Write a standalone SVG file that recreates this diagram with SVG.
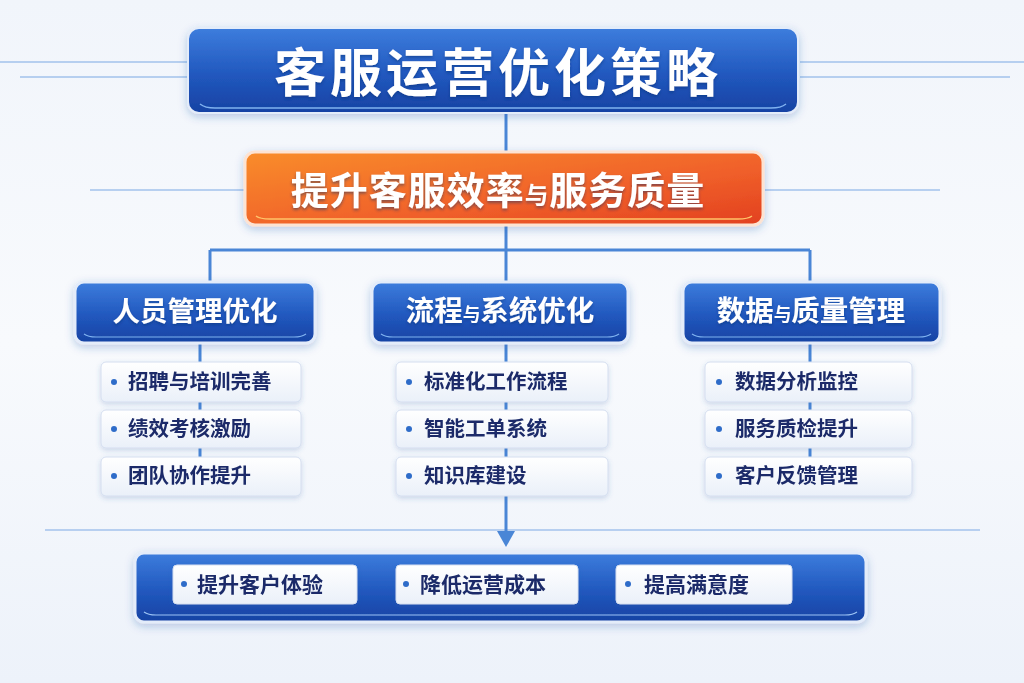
<svg xmlns="http://www.w3.org/2000/svg" width="1024" height="683" viewBox="0 0 1024 683">
<defs>
<linearGradient id="bg" x1="0" y1="0" x2="0" y2="1"><stop offset="0" stop-color="#f1f5fb"/><stop offset="0.5" stop-color="#f8fafd"/><stop offset="1" stop-color="#edf2fa"/></linearGradient>
<linearGradient id="blue" x1="0" y1="0" x2="0" y2="1"><stop offset="0" stop-color="#3d7ddd"/><stop offset="0.55" stop-color="#2158be"/><stop offset="1" stop-color="#1742a3"/></linearGradient>
<linearGradient id="orange" x1="0" y1="0" x2="1" y2="1"><stop offset="0" stop-color="#f98d2c"/><stop offset="0.6" stop-color="#f0602a"/><stop offset="1" stop-color="#e2401f"/></linearGradient>
<linearGradient id="item" x1="0" y1="0" x2="0" y2="1"><stop offset="0" stop-color="#ffffff"/><stop offset="1" stop-color="#eaf0f9"/></linearGradient>
<filter id="sh" x="-10%" y="-30%" width="120%" height="170%"><feDropShadow dx="0" dy="3" stdDeviation="4" flood-color="#1d4fa8" flood-opacity="0.28"/></filter>
<filter id="sh2" x="-10%" y="-30%" width="120%" height="170%"><feDropShadow dx="0" dy="2" stdDeviation="2.5" flood-color="#3a63a8" flood-opacity="0.22"/></filter>
<filter id="tsh" x="-5%" y="-20%" width="110%" height="150%"><feDropShadow dx="0" dy="2" stdDeviation="1.5" flood-color="#0b2a70" flood-opacity="0.45"/></filter>
</defs>
<style>
.ln{stroke:#4a86d6;stroke-width:3;fill:none}
.deco{stroke:#a3c2ec;stroke-width:1.6;fill:none}
.t{font-family:"Noto Sans CJK SC","Noto Sans",sans-serif;font-weight:700;fill:#ffffff;text-anchor:middle}
.it{font-family:"Noto Sans CJK SC","Noto Sans",sans-serif;font-weight:700;fill:#1b2b69;font-size:20.5px}
.bt{font-family:"Noto Sans CJK SC","Noto Sans",sans-serif;font-weight:700;fill:#1b2b69;font-size:21px}
.dot{fill:#2e6cc9}
.ibox{fill:url(#item);stroke:#d4def0;stroke-width:1}
.hbox{fill:url(#blue);stroke:#e3ecfa;stroke-width:3}
.sm{font-size:0.62em}
</style>
<rect width="1024" height="683" fill="url(#bg)"/>
<g id="decor">
<path class="deco" d="M0 62H190M20 77H190M800 62H1024M800 77H1010"/>
<path class="deco" d="M90 190H245M765 190H940"/>
<path class="deco" d="M45 530H980"/>
</g>
<g id="connectors">
<path class="ln" d="M506 113V152"/>
<path class="ln" d="M506 225V250M210 250H810M210 250V282M506 250V282M810 250V282"/>
<path class="ln" d="M200 343V362M200 402V410M200 448V457"/>
<path class="ln" d="M506 343V362M506 402V410M506 448V457M506 496V532"/>
<path class="ln" d="M810 343V362M810 402V410M810 448V457"/>
<path d="M497 531H515L506 547Z" fill="#4a86d6"/>
</g>
<g id="title" filter="url(#sh)">
<rect x="188" y="28" width="610" height="85" rx="11" fill="url(#blue)" stroke="#e3ecfa" stroke-width="2"/>
<path d="M200 104Q205 108 215 108H771Q781 108 786 104" stroke="#7fb2f0" stroke-width="1.5" fill="none"/>
<text class="t" x="498" y="92" font-size="52" letter-spacing="4" filter="url(#tsh)">客服运营优化策略</text>
</g>
<g id="goal" filter="url(#sh)">
<rect x="245" y="152" width="518" height="73" rx="10" fill="url(#orange)" stroke="#fde3d2" stroke-width="3"/>
<path d="M256 216Q260 219 270 219H738Q748 219 752 216" stroke="#ffc36a" stroke-width="1.5" fill="none"/>
<text class="t" x="498" y="204" font-size="38" letter-spacing="1" filter="url(#tsh)">提升客服效率<tspan class="sm">与</tspan>服务质量</text>
</g>
<g id="h1" filter="url(#sh)">
<rect class="hbox" x="75" y="282" width="240" height="61" rx="9"/>
<path d="M84 334Q88 337 96 337H294Q302 337 306 334" stroke="#7fb2f0" stroke-width="1.2" fill="none"/>
<text class="t" x="195" y="321" font-size="27.5" filter="url(#tsh)">人员管理优化</text>
</g>
<g id="h2" filter="url(#sh)">
<rect class="hbox" x="372" y="282" width="256" height="61" rx="9"/>
<path d="M381 334Q385 337 393 337H607Q615 337 619 334" stroke="#7fb2f0" stroke-width="1.2" fill="none"/>
<text class="t" x="500" y="321" font-size="28.5" filter="url(#tsh)">流程<tspan class="sm">与</tspan>系统优化</text>
</g>
<g id="h3" filter="url(#sh)">
<rect class="hbox" x="683" y="282" width="257" height="61" rx="9"/>
<path d="M692 334Q696 337 704 337H919Q927 337 931 334" stroke="#7fb2f0" stroke-width="1.2" fill="none"/>
<text class="t" x="811" y="321" font-size="28.5" filter="url(#tsh)">数据<tspan class="sm">与</tspan>质量管理</text>
</g>
<g id="i11" filter="url(#sh2)"><rect class="ibox" x="101" y="362" width="200" height="40" rx="5"/><circle class="dot" cx="114" cy="382" r="3"/><text class="it" x="128" y="389">招聘与培训完善</text></g>
<g id="i12" filter="url(#sh2)"><rect class="ibox" x="101" y="410" width="200" height="38" rx="5"/><circle class="dot" cx="114" cy="429" r="3"/><text class="it" x="128" y="436">绩效考核激励</text></g>
<g id="i13" filter="url(#sh2)"><rect class="ibox" x="101" y="457" width="200" height="39" rx="5"/><circle class="dot" cx="114" cy="476" r="3"/><text class="it" x="128" y="483">团队协作提升</text></g>
<g id="i21" filter="url(#sh2)"><rect class="ibox" x="396" y="362" width="212" height="40" rx="5"/><circle class="dot" cx="409" cy="382" r="3"/><text class="it" x="424" y="389">标准化工作流程</text></g>
<g id="i22" filter="url(#sh2)"><rect class="ibox" x="396" y="410" width="212" height="38" rx="5"/><circle class="dot" cx="409" cy="429" r="3"/><text class="it" x="424" y="436">智能工单系统</text></g>
<g id="i23" filter="url(#sh2)"><rect class="ibox" x="396" y="457" width="212" height="39" rx="5"/><circle class="dot" cx="409" cy="476" r="3"/><text class="it" x="424" y="483">知识库建设</text></g>
<g id="i31" filter="url(#sh2)"><rect class="ibox" x="705" y="362" width="207" height="40" rx="5"/><circle class="dot" cx="719" cy="382" r="3"/><text class="it" x="735" y="389">数据分析监控</text></g>
<g id="i32" filter="url(#sh2)"><rect class="ibox" x="705" y="410" width="207" height="38" rx="5"/><circle class="dot" cx="719" cy="429" r="3"/><text class="it" x="735" y="436">服务质检提升</text></g>
<g id="i33" filter="url(#sh2)"><rect class="ibox" x="705" y="457" width="207" height="39" rx="5"/><circle class="dot" cx="719" cy="476" r="3"/><text class="it" x="735" y="483">客户反馈管理</text></g>
<g id="outcomes" filter="url(#sh)">
<rect x="135" y="553" width="731" height="69" rx="9" fill="url(#blue)" stroke="#e3ecfa" stroke-width="3"/>
<path d="M144 612Q148 615 156 615H845Q853 615 857 612" stroke="#9cc4f5" stroke-width="1.2" fill="none"/>
</g>
<g id="o1" filter="url(#sh2)"><rect class="ibox" x="173" y="565" width="184" height="39" rx="4"/><circle class="dot" cx="184" cy="584" r="3"/><text class="bt" x="197" y="592">提升客户体验</text></g>
<g id="o2" filter="url(#sh2)"><rect class="ibox" x="396" y="565" width="182" height="39" rx="4"/><circle class="dot" cx="406" cy="584" r="3"/><text class="bt" x="420" y="592">降低运营成本</text></g>
<g id="o3" filter="url(#sh2)"><rect class="ibox" x="616" y="565" width="176" height="39" rx="4"/><circle class="dot" cx="628" cy="584" r="3"/><text class="bt" x="644" y="592">提高满意度</text></g>
</svg>
